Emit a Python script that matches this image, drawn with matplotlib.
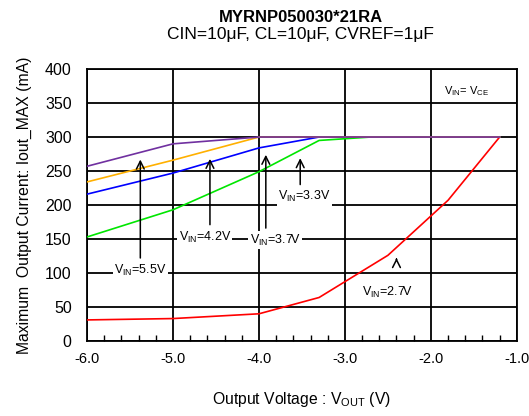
import matplotlib.pyplot as plt
from matplotlib.ticker import MultipleLocator

plt.rcParams["font.family"] = ["Liberation Sans", "DejaVu Sans"]
plt.rcParams["mathtext.fontset"] = "custom"
plt.rcParams["mathtext.rm"] = "Liberation Sans"

# data
vout_55 = [-6.0, -5.0, -4.0, -1.2]
iout_55 = [257, 290, 300, 300]
vout_42 = [-6.0, -5.0, -4.0, -1.2]
iout_42 = [234, 266, 300, 300]
vout_37 = [-6.0, -5.0, -4.0, -3.3, -1.2]
iout_37 = [216, 247, 284, 300, 300]
vout_33 = [-6.0, -5.0, -4.0, -3.3, -2.7, -1.2]
iout_33 = [153, 193, 249, 295, 300, 300]
vout_27 = [-6.0, -5.0, -4.0, -3.3, -2.5, -1.8, -1.2]
iout_27 = [31, 33, 40, 64, 126, 207, 300]

fig = plt.figure(figsize=(5.29, 4.16), dpi=100)
ax = fig.add_axes([0.1645, 0.1803, 0.8125, 0.6537])

ax.plot(vout_27, iout_27, color="#FF0000", lw=1.2, zorder=3)
ax.plot(vout_33, iout_33, color="#00E600", lw=1.2, zorder=3)
ax.plot(vout_37, iout_37, color="#0000FF", lw=1.2, zorder=3)
ax.plot(vout_42, iout_42, color="#FFB000", lw=1.2, zorder=3)
ax.plot(vout_55, iout_55, color="#7030A0", lw=1.2, zorder=3)

ax.set_xlim(-6.0, -1.0)
ax.set_ylim(0, 400)
ax.xaxis.set_minor_locator(MultipleLocator(0.2))
ax.yaxis.set_major_locator(MultipleLocator(50))
ax.set_xticks([-6, -5, -4, -3, -2, -1])
ax.set_xticklabels(["-6.0", "-5.0", "-4.0", "-3.0", "-2.0", "-1.0"])
ax.tick_params(axis="y", which="major", length=0, labelsize=11.5, pad=11)
ax.tick_params(axis="x", which="major", length=0, labelsize=10.5, pad=8)
ax.tick_params(axis="x", which="minor", direction="in", length=4, width=1, top=False)
ax.grid(True, which="major", color="black", lw=1.3)
for s in ax.spines.values():
    s.set_linewidth(1.3)
ax.set_axisbelow(True)

box = dict(facecolor="white", edgecolor="none", pad=1)
arrow = dict(arrowstyle="->", color="black", lw=1.1, mutation_scale=14)

labels = [
    (r"V$_{\mathrm{IN}}$=5.5V", -5.38, 271, -5.38, 104),
    (r"V$_{\mathrm{IN}}$=4.2V", -4.57, 272, -4.63, 153),
    (r"V$_{\mathrm{IN}}$=3.7V", -3.92, 278, -3.81, 148),
    (r"V$_{\mathrm{IN}}$=3.3V", -3.52, 273, -3.47, 212),
]
for txt, ax_, ay, tx, ty in labels:
    ax.annotate("", xy=(ax_, ay), xytext=(ax_, ty + 14), arrowprops=arrow, zorder=4)
    ax.text(tx, ty, txt, ha="center", va="center", fontsize=9, bbox=box, zorder=5)

ax.annotate("", xy=(-2.40, 122), xytext=(0, -1), textcoords="offset points",
            arrowprops=arrow, zorder=4)
ax.text(-2.50, 72, r"V$_{\mathrm{IN}}$=2.7V", ha="center", va="center",
        fontsize=9, bbox=box, zorder=5)
ax.text(-1.59, 367, r"V$_{\mathrm{IN}}$= V$_{\mathrm{CE}}$", ha="center",
        va="center", fontsize=8, bbox=box, zorder=5)

ax.set_ylabel("Maximum  Output Current: Iout_MAX (mA)", fontsize=11.3, labelpad=9)
ax.set_xlabel(r"Output Voltage : V$_{\mathrm{OUT}}$ (V)", fontsize=11.3, labelpad=17)
fig.text(0.568, 0.959, "MYRNP050030*21RA", ha="center", va="center",
         fontsize=12, fontweight="bold")
fig.text(0.568, 0.918, "CIN=10μF, CL=10μF, CVREF=1μF", ha="center",
         va="center", fontsize=12.5)

fig.savefig("out.png", dpi=100)
